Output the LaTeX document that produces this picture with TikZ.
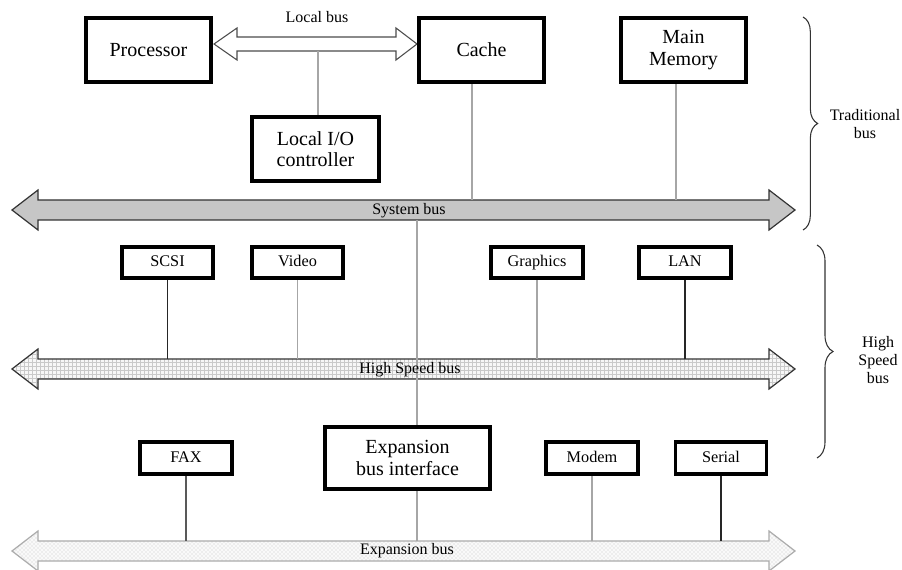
\documentclass[tikz,border=0pt]{standalone}
\usepackage{fontspec}
\setmainfont{Liberation Serif}
\usetikzlibrary{patterns,decorations.pathreplacing}

% Outline of a wide double-headed bus arrow centred on row #1 (pixels from the top)
\newcommand\buspath[1]{(12,-#1) -- (38,-#1+20) -- (38,-#1+10) -- (769,-#1+10) -- (769,-#1+20) -- (795,-#1) -- (769,-#1-20) -- (769,-#1-10) -- (38,-#1-10) -- (38,-#1-20) -- cycle}

\begin{document}
\begin{tikzpicture}[x=0.75pt,y=0.75pt,
  box/.style={draw=black, line width=2.7pt, fill=white, inner sep=0pt, align=center},
  bigbox/.style={box, minimum width=94pt, minimum height=48.4pt, font=\fontsize{15}{16}\selectfont},
  smallbox/.style={box, minimum width=68.6pt, minimum height=23.6pt, text height=8.6pt, text depth=2.6pt, font=\fontsize{12.2}{13}\selectfont},
  tapgray/.style={draw=gray!70, line width=1pt},
  tapblack/.style={draw=black!85, line width=0.9pt},
  buslabel/.style={font=\fontsize{12}{13}\selectfont, inner sep=0pt},
  sidelabel/.style={font=\fontsize{12}{13.4}\selectfont, align=center, inner sep=0pt},
  bracket/.style={draw=gray!40!black, line width=0.8pt, decorate, decoration={brace, amplitude=#1}},
]
\fill[white] (0,0) rectangle (902,-570);
\useasboundingbox (0,0) rectangle (902,-570);

% ---- buses ----
% local bus
\draw[draw=gray!60!black, line width=0.8pt, fill=white]
  (214,-44) -- (237,-28) -- (237,-37) -- (396,-37) -- (396,-28) -- (417,-44)
  -- (396,-60) -- (396,-51) -- (237,-51) -- (237,-60) -- cycle;
% system bus
\draw[draw=gray!40!black, line width=0.9pt, fill=gray!45] \buspath{210};
% high speed bus
\fill[gray!6] \buspath{369};
\fill[pattern=grid, pattern color=gray!42] \buspath{369};
\draw[draw=black!80, line width=0.9pt] \buspath{369};
% expansion bus
\fill[gray!5] \buspath{551};
\fill[pattern=crosshatch dots, pattern color=gray!45] \buspath{551};
\draw[draw=gray!65, line width=0.9pt] \buspath{551};

% bus tap points
\coordinate (lbTap)   at (318,-51);
\coordinate (cacheTap) at (472,-200);
\coordinate (memTap)  at (676,-200);
\coordinate (sysTap)  at (417,-220);
\coordinate (hsTop)   at (0,-359);
\coordinate (expTap)  at (417,-541);
\coordinate (exTop)   at (0,-541);

% ---- devices ----
\node[bigbox] (proc)  at (148.5,-50) {Processor};
\node[bigbox] (cache) at (481.5,-50) {Cache};
\node[bigbox] (mem)   at (683.5,-50) {Main\\Memory};
\node[bigbox, minimum width=95.6pt] (lio) at (315.5,-149) {Local I/O\\controller};

\node[smallbox] (scsi)  at (167.5,-262.5) {SCSI};
\node[smallbox] (video) at (297.5,-262.5) {Video};
\node[smallbox] (gfx)   at (537,-262.5)   {Graphics};
\node[smallbox] (lan)   at (685,-262.5)   {LAN};

\node[bigbox, minimum width=124.1pt, minimum height=46.9pt] (exp) at (407.5,-458) {Expansion\\bus interface};
\node[smallbox, minimum height=24.4pt] (fax)    at (186,-458) {FAX};
\node[smallbox, minimum height=24.4pt] (modem)  at (592,-458) {Modem};
\node[smallbox, minimum height=24.4pt, minimum width=68pt] (serial) at (721,-458) {Serial};

% ---- connectors ----
\draw[tapgray] (lbTap) -- (lbTap |- lio.north);
\draw[tapgray] (cacheTap |- cache.south) -- (cacheTap);
\draw[tapgray] (memTap |- mem.south) -- (memTap);
\draw[tapgray] (sysTap) -- (sysTap |- exp.north);
\draw[tapgray] (expTap |- exp.south) -- (expTap);

\draw[tapblack] (scsi.south) -- (scsi.south |- hsTop);
\draw[tapgray]  (video.south) -- (video.south |- hsTop);
\draw[tapgray]  (gfx.south) -- (gfx.south |- hsTop);
\draw[tapblack] (lan.south) -- (lan.south |- hsTop);

\draw[draw=black!65, line width=0.9pt] (fax.south) -- (fax.south |- exTop);
\draw[tapgray]  (modem.south) -- (modem.south |- exTop);
\draw[tapblack] (serial.south) -- (serial.south |- exTop);

% ---- bus labels ----
\node[buslabel] (lbl-local) at (317,-17)  {Local bus};
\node[buslabel] (lbl-sys)   at (409,-211) {System bus};
\node[buslabel] (lbl-hs)    at (410,-370) {High Speed bus};
\node[buslabel] (lbl-exp)   at (407,-551) {Expansion bus};

% ---- groupings ----
\draw[bracket=11pt] (803,-17) -- (803,-230);
\draw[bracket=12pt] (817,-245) -- (817,-458);
\node[sidelabel] (trad) at (865,-124) {Traditional\\bus};
\node[sidelabel] (hsg)  at (878,-360) {High\\Speed\\bus};
\end{tikzpicture}
\end{document}
